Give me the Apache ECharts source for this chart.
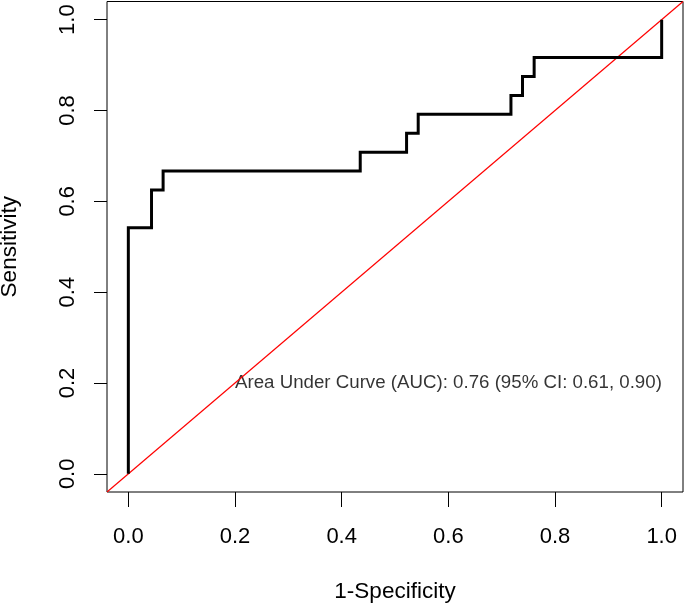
<!DOCTYPE html>
<html>
<head>
<meta charset="utf-8">
<script src="https://cdn.jsdelivr.net/npm/echarts@6/dist/echarts.min.js"></script>
<style>
html,body{margin:0;padding:0;background:#fff;}
#c{width:685px;height:605px;}
</style>
</head>
<body>
<div id="c"></div>
<script>
// ROC curve vertices (1-Specificity, Sensitivity)
const fpr = [0, 0, 0.0435, 0.0435, 0.0652, 0.0652, 0.4348, 0.4348, 0.5217, 0.5217, 0.5435, 0.5435, 0.7174, 0.7174, 0.7391, 0.7391, 0.7609, 0.7609, 1, 1];
const tpr = [0, 0.5417, 0.5417, 0.625, 0.625, 0.6667, 0.6667, 0.7083, 0.7083, 0.75, 0.75, 0.7917, 0.7917, 0.8333, 0.8333, 0.875, 0.875, 0.9167, 0.9167, 1];
// reference diagonal (y = x) across the plot region
const diagX = [-0.04, 1.04];
const diagY = [-0.04, 1.04];
const tickValues = [0, 0.2, 0.4, 0.6, 0.8, 1.0];
const aucText = 'Area Under Curve (AUC): 0.76 (95% CI: 0.61, 0.90)';
const aucPos = [0.2, 0.2];

const font = '"Liberation Sans", Arial, sans-serif';
const chart = echarts.init(document.getElementById('c'), null, {renderer: 'canvas'});
chart.setOption({
  animation: false,
  backgroundColor: '#fff',
  grid: {left: 107, right: 2, top: 1.5, bottom: 113, containLabel: false, outerBoundsMode: 'none',
    show: true, borderColor: '#000', borderWidth: 1, backgroundColor: 'transparent'},
  xAxis: {
    type: 'value', min: -0.04, max: 1.04,
    name: '1-Specificity', nameLocation: 'middle', nameGap: 88,
    nameTextStyle: {fontFamily: font, fontSize: 22.5, color: '#000'},
    axisLine: {show: false, onZero: false},
    splitLine: {show: false},
    axisTick: {show: true, inside: false, length: 15, customValues: tickValues, lineStyle: {color: '#000', width: 1}},
    axisLabel: {show: true, customValues: tickValues, margin: 34, fontFamily: font, fontSize: 22, color: '#000',
      formatter: v => v.toFixed(1)}
  },
  yAxis: {
    type: 'value', min: -0.04, max: 1.04,
    name: 'Sensitivity', nameLocation: 'middle', nameGap: 86, nameRotate: 90,
    nameTextStyle: {fontFamily: font, fontSize: 22.5, color: '#000'},
    axisLine: {show: false, onZero: false},
    splitLine: {show: false},
    axisTick: {show: true, inside: false, length: 13, customValues: tickValues, lineStyle: {color: '#000', width: 1}},
    axisLabel: {show: true, customValues: tickValues, rotate: 90, margin: 28, fontFamily: font, fontSize: 22, color: '#000',
      formatter: v => v.toFixed(1)}
  },
  series: [
    {
      type: 'line', silent: true, symbol: 'none', clip: true,
      data: diagX.map((x, i) => [x, diagY[i]]),
      lineStyle: {color: '#ff0000', width: 1.2}
    },
    {
      type: 'line', silent: true, symbol: 'none', clip: true,
      data: fpr.map((x, i) => [x, tpr[i]]),
      lineStyle: {color: '#000', width: 3, join: 'miter', cap: 'butt'}
    },
    {
      type: 'scatter', silent: true, symbolSize: 0,
      data: [aucPos],
      label: {show: true, position: 'right', distance: 0, formatter: aucText,
        fontFamily: font, fontSize: 18.7, color: '#000', align: 'left', verticalAlign: 'middle'}
    }
  ]
});
</script>
</body>
</html>
